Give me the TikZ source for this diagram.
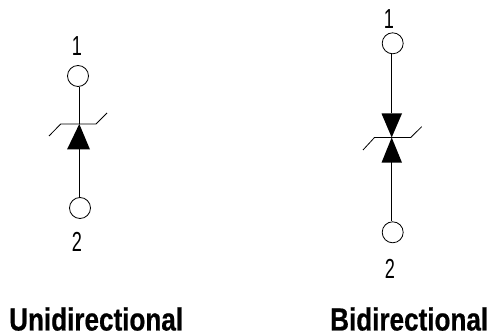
\documentclass[tikz,border=0pt]{standalone}
\usepackage{fontspec}
\newfontfamily\numfont[FakeStretch=0.66]{Liberation Sans}
\newfontfamily\capfont[FakeStretch=0.815,BoldFeatures={FakeStretch=0.815,FakeBold=0.6}]{Liberation Sans}
\begin{document}
\begin{tikzpicture}[x=1pt,y=-1pt,
  terminal/.style={circle,draw=black,line width=0.8pt,fill=white,minimum size=21pt,inner sep=0pt},
  wire/.style={draw=black,line width=0.9pt},
  thinwire/.style={draw=black,line width=0.8pt},
  num/.style={font=\numfont\fontsize{27.5}{27.5}\selectfont,inner sep=0pt,text=black},
  caption/.style={font=\capfont\bfseries\fontsize{32}{32}\selectfont,inner sep=0pt,text=black,text depth=0pt}]
\useasboundingbox (0,0) rectangle (491,334);
% Unidirectional
\node[terminal] (ua) at (78,76) {};
\node[terminal] (ub) at (80,208) {};
\coordinate (uapex) at (79.3,124);
\coordinate (ubase) at (79.3,149);
\draw[wire] (uapex) -- (uapex |- ua.south);
\draw[wire] (ubase) -- (ubase |- ub.north);
\fill[black] (uapex) -- (90,149.5) -- (67,149.5) -- cycle;
\draw[thinwire] (49,136) -- (60.7,124) -- (96,124) -- (107,113);
\node[num] (ul1) at (77,46.5) {1};
\node[num] (ul2) at (77,242) {2};
\node[caption,anchor=base west] (ucap) at (9,330.5) {Unidirectional};
% Bidirectional
\node[terminal] (ba) at (392.7,43.3) {};
\node[terminal] (bb) at (392.7,232.3) {};
\coordinate (btop) at (391.7,113.5);
\coordinate (bmid) at (391.7,137.5);
\coordinate (bbot) at (391.7,162.5);
\draw[wire] (btop) -- (btop |- ba.south);
\draw[wire] (bbot) -- (bbot |- bb.north);
\fill[black] (bmid) -- (402,113.5) -- (381.5,113.5) -- cycle;
\fill[black] (bmid) -- (402,162.7) -- (381.5,162.7) -- cycle;
\draw[thinwire] (363,150) -- (374.5,137.5) -- (410.7,137.5) -- (421.7,126.7);
\node[num] (bl1) at (389,19) {1};
\node[num] (bl2) at (390,269) {2};
\node[caption,anchor=base west] (bcap) at (330,330.5) {Bidirectional};
\end{tikzpicture}
\end{document}
